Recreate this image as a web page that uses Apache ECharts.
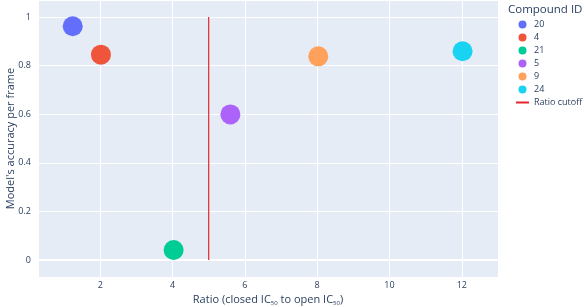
<!DOCTYPE html>
<html>
<head>
<meta charset="utf-8">
<script src="https://cdn.jsdelivr.net/npm/echarts@6/dist/echarts.min.js"></script>
<style>
  html, body { margin: 0; padding: 0; background: #fff; }
  #chart { width: 584px; height: 307px; }
</style>
</head>
<body>
<div id="chart"></div>
<script>
// compound ids, ratio (x) and accuracy (y)
const compounds = ['20', '4', '21', '5', '9', '24']
const ratios = [1.24, 2.02, 4.03, 5.6, 8.03, 12.02]
const accuracy = [0.962, 0.845, 0.041, 0.599, 0.838, 0.859]
const colors = ['#636efa', '#EF553B', '#00cc96', '#ab63fa', '#FFA15A', '#19d3f3']
// ratio cutoff line
const cutoffX = [5, 5]
const cutoffY = [0, 1]

const textColor = '#2a3f5f'
const font = '"Open Sans", Verdana, Arial, sans-serif'

const chart = echarts.init(document.getElementById('chart'))

const series = compounds.map((id, i) => ({
  name: id,
  type: 'scatter',
  symbolSize: 20,
  itemStyle: { color: colors[i], opacity: 1 },
  data: [[ratios[i], accuracy[i]]],
  z: 3
}))
// zero line
series[0].markLine = {
  silent: true,
  symbol: 'none',
  label: { show: false },
  lineStyle: { color: '#ffffff', width: 2, type: 'solid' },
  data: [{ yAxis: 0 }],
  z: 1
}
series.push({
  name: 'Ratio cutoff',
  type: 'line',
  symbol: 'none',
  lineStyle: { color: '#e4262a', width: 1.2 },
  itemStyle: { color: '#e4262a' },
  data: cutoffX.map((x, i) => [x, cutoffY[i]]),
  z: 2
})

chart.setOption({
  textStyle: { fontFamily: font },
  animation: false,
  title: {
    text: 'Compound ID',
    left: 508,
    top: 4,
    padding: 0,
    textStyle: { color: textColor, fontSize: 11.5, fontWeight: 'normal', fontFamily: font }
  },
  legend: {
    orient: 'vertical',
    left: 510,
    top: 15,
    itemWidth: 13,
    itemHeight: 8,
    itemGap: 4,
    data: compounds.map(c => ({ name: c, icon: 'circle' })).concat([
      { name: 'Ratio cutoff', itemStyle: { opacity: 0 } }
    ]),
    textStyle: { color: textColor, fontSize: 9, fontFamily: font }
  },
  grid: {
    left: 38,
    right: 86,
    top: 0,
    bottom: 30,
    outerBoundsMode: 'none',
    containLabel: false,
    show: true,
    backgroundColor: '#E5ECF6',
    borderWidth: 0
  },
  xAxis: {
    type: 'value',
    min: 0.28,
    max: 13.0,
    splitNumber: 6,
    name: 'Ratio (closed IC{s|50} to open IC{s|50})',
    nameLocation: 'middle',
    nameGap: 17,
    nameMoveOverlap: false,
    nameTextStyle: {
      color: textColor,
      fontSize: 11,
      fontFamily: font,
      rich: {
        s: { fontSize: 6, color: textColor, fontFamily: font, verticalAlign: 'bottom', padding: [6, 0, 0, 0] }
      }
    },
    axisLine: { show: false },
    axisTick: { show: false },
    axisLabel: {
      color: textColor,
      fontSize: 9,
      margin: 4,
      showMinLabel: false,
      showMaxLabel: false
    },
    splitLine: { show: true, lineStyle: { color: '#ffffff', width: 1 } }
  },
  yAxis: {
    type: 'value',
    min: -0.07,
    max: 1.07,
    splitNumber: 5,
    name: "Model's accuracy per frame",
    nameLocation: 'middle',
    nameGap: 22,
    nameMoveOverlap: false,
    nameTextStyle: { color: textColor, fontSize: 11, fontFamily: font },
    axisLine: { show: false },
    axisTick: { show: false },
    axisLabel: {
      color: textColor,
      fontSize: 9,
      margin: 7,
      showMinLabel: false,
      showMaxLabel: false,
      formatter: v => String(Math.round(v * 10) / 10)
    },
    splitLine: { show: true, lineStyle: { color: '#ffffff', width: 1 } }
  },
  series: series
})
</script>
</body>
</html>
